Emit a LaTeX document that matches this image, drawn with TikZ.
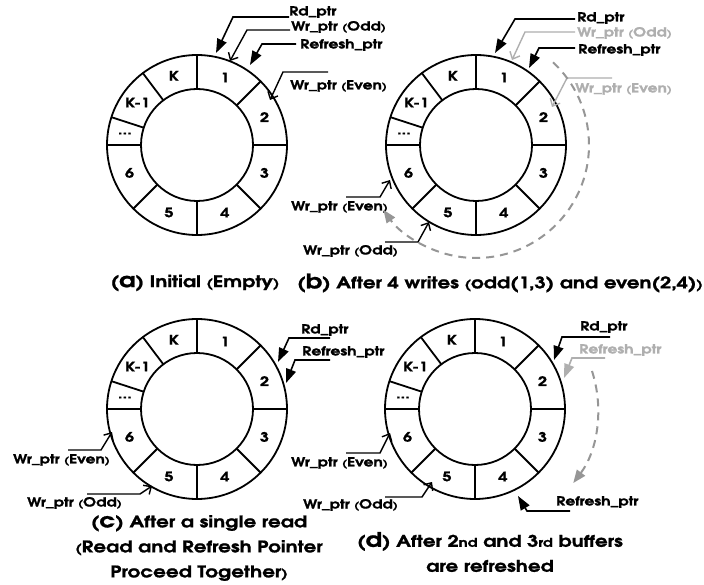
\documentclass[tikz,border=0pt]{standalone}
\usepackage{fontspec}
\setmainfont{texgyreadventor-bold.otf}[FakeBold=1.2, FakeStretch=1.25]
\usetikzlibrary{arrows.meta}
\definecolor{lightgrey}{RGB}{175,175,175}
\definecolor{dashgrey}{RGB}{150,150,150}
\newcommand\pointerline[5]{%
  \coordinate (#1s) at #3; \coordinate (#1b) at #4; \coordinate (#1t) at #5;
  \draw[#2] (#1s) -- (#1b) -- (#1t);}
\newcommand\smp[1]{\scalebox{0.75}{#1}}
\newcommand\capletter[1]{\scalebox{1.25}{#1}}
\tikzset{
  ringline/.style={line width=1.8pt},
  numtext/.style={font=\fontsize{13}{13}\selectfont, inner sep=0pt},
  ptrtext/.style={font=\fontsize{12.5}{12.5}\selectfont, inner sep=0pt},
  captext/.style={font=\fontsize{16}{25}\selectfont, inner sep=0pt},
  ptrfill/.style={line width=1.6pt, -{Triangle[length=14pt,width=10pt]}},
  ptropen/.style={line width=1.4pt, -{Straight Barb[length=6pt,width=11pt]}},
  greydash/.style={draw=dashgrey, line width=2pt, dash pattern=on 8pt off 6pt, -{Triangle[length=13pt,width=10pt]}},
  pics/fifo/.style={code={
    \draw[ringline] (0,0) circle[radius=90pt];
    \draw[ringline] (0,0) circle[radius=56pt];
    \foreach \a in {90,45,0,-45,-90,-135,180,162,127}
      \draw[ringline] (\a:56pt) -- (\a:90pt);
    \node[numtext] (-n1) at (67.5:73pt) {1};
    \node[numtext] (-n2) at (22.5:73pt) {2};
    \node[numtext] (-n3) at (-22.5:73pt) {3};
    \node[numtext] (-n4) at (-67.5:73pt) {4};
    \node[numtext] (-n5) at (-112.5:73pt) {5};
    \node[numtext] (-n6) at (-157.5:73pt) {6};
    \node[numtext] (-nd) at (171:73pt) {...};
    \node[numtext] (-nk1) at (144.5:73pt) {K-1};
    \node[numtext] (-nk) at (108.5:73pt) {K};
  }}
}
\begin{document}
\begin{tikzpicture}[x=1pt,y=1pt]
\fill[white] (0,0) rectangle (704,-585);
\useasboundingbox (0,0) rectangle (704,-585);
% rings
\pic (ra) at (197,-145) {fifo};
\pic (rb) at (476,-145) {fifo};
\pic (rc) at (197,-409) {fifo};
\pic (rd) at (475,-409) {fifo};
\coordinate (bC) at (476,-145);
\coordinate (dC) at (475,-409);
% (a)
\node[ptrtext,anchor=west] (aRd) at (289,-12) {Rd\_ptr};
\pointerline{aRdp}{ptrfill}{(289,-17)}{(233,-17)}{(216,-53)}
\node[ptrtext,anchor=west] (aWo) at (291,-27) {Wr\_ptr \smp{(}Odd\smp{)}};
\pointerline{aWop}{ptropen}{(290,-30)}{(247,-30)}{(230,-61)}
\node[ptrtext,anchor=west] (aRf) at (300,-45) {Refresh\_ptr};
\pointerline{aRfp}{ptrfill}{(296,-44)}{(262,-44)}{(250,-65)}
\node[ptrtext,anchor=west] (aWe) at (290,-86) {Wr\_ptr \smp{(}Even\smp{)}};
\pointerline{aWep}{ptropen}{(328,-72)}{(283,-72)}{(270,-100)}
% (b)
\node[ptrtext,anchor=west] (bRd) at (577,-18) {Rd\_ptr};
\pointerline{bRdp}{ptrfill}{(575,-19)}{(515,-19)}{(495,-53)}
\node[ptrtext,anchor=west,text=lightgrey] (bWo) at (577,-33) {Wr\_ptr \smp{(}Odd\smp{)}};
\pointerline{bWop}{ptropen,draw=lightgrey}{(575,-32)}{(525,-32)}{(512,-60)}
\node[ptrtext,anchor=west] (bRf) at (578,-50) {Refresh\_ptr};
\pointerline{bRfp}{ptrfill}{(575,-48)}{(539,-48)}{(529,-68)}
\node[ptrtext,anchor=west,text=lightgrey] (bWe) at (575,-89) {Wr\_ptr \smp{(}Even\smp{)}};
\pointerline{bWep}{ptropen,draw=lightgrey}{(612,-78)}{(567,-78)}{(552,-107)}
\node[ptrtext,anchor=east] (bWe2) at (388,-207) {Wr\_ptr \smp{(}Even\smp{)}};
\pointerline{bWe2p}{ptropen}{(346,-197)}{(380,-197)}{(390,-180)}
\node[ptrtext,anchor=east] (bWo2) at (398,-251) {Wr\_ptr \smp{(}Odd\smp{)}};
\pointerline{bWo2p}{ptropen}{(385,-242)}{(418,-242)}{(429,-222)}
\draw[greydash] ([shift={(47:113pt)}]bC) arc[start angle=47,end angle=-145,radius=113pt];
% (c)
\node[ptrtext,anchor=west] (cRd) at (301,-330) {Rd\_ptr};
\pointerline{cRdp}{ptrfill}{(330,-338)}{(289,-338)}{(278,-362)}
\node[ptrtext,anchor=west] (cRf) at (302,-352) {Refresh\_ptr};
\pointerline{cRfp}{ptrfill}{(330,-360)}{(295,-360)}{(286,-383)}
\node[ptrtext,anchor=east] (cWe) at (110,-460) {Wr\_ptr \smp{(}Even\smp{)}};
\pointerline{cWep}{ptropen}{(68,-450)}{(101,-450)}{(112,-432)}
\node[ptrtext,anchor=east] (cWo) at (122,-503) {Wr\_ptr \smp{(}Odd\smp{)}};
\pointerline{cWop}{ptropen}{(87,-494)}{(140,-494)}{(152,-486)}
% (d)
\node[ptrtext,anchor=west] (dRd) at (580,-327) {Rd\_ptr};
\pointerline{dRdp}{ptrfill}{(610,-337)}{(562,-337)}{(554,-360)}
\node[ptrtext,anchor=west,text=lightgrey] (dRf) at (579,-350) {Refresh\_ptr};
\pointerline{dRfp}{ptrfill,draw=lightgrey}{(605,-358)}{(572,-358)}{(564,-378)}
\draw[greydash] ([shift={(18:123pt)}]dC) arc[start angle=18,end angle=-37,radius=123pt];
\node[ptrtext,anchor=west] (dRf2) at (556,-502) {Refresh\_ptr};
\pointerline{dRf2p}{ptrfill}{(570,-511)}{(527,-511)}{(518,-496)}
\node[ptrtext,anchor=east] (dWe) at (388,-463) {Wr\_ptr \smp{(}Even\smp{)}};
\pointerline{dWep}{ptropen}{(346,-453)}{(380,-453)}{(390,-433)}
\node[ptrtext,anchor=east] (dWo) at (398,-505) {Wr\_ptr \smp{(}Odd\smp{)}};
\pointerline{dWop}{ptropen}{(385,-497)}{(422,-497)}{(432,-482)}
% captions
\node[captext] (capa) at (195,-283) {(\capletter{a}) Initial \smp{(}Empty\smp{)}};
\node[captext] (capb) at (500,-283) {(\capletter{b}) After 4 writes \smp{(}odd(1,3) and even(2,4)\smp{)}};
\node[captext,align=center] (capc) at (199,-548) {(\capletter{c}) After a single read\\\smp{(}Read and Refresh Pointer\\Proceed Together\smp{)}};
\node[captext,align=center] (capd) at (490,-552) {(\capletter{d}) After 2{\fontsize{12}{12}\selectfont nd} and 3{\fontsize{12}{12}\selectfont rd} buffers\\are refreshed};
\end{tikzpicture}
\end{document}
